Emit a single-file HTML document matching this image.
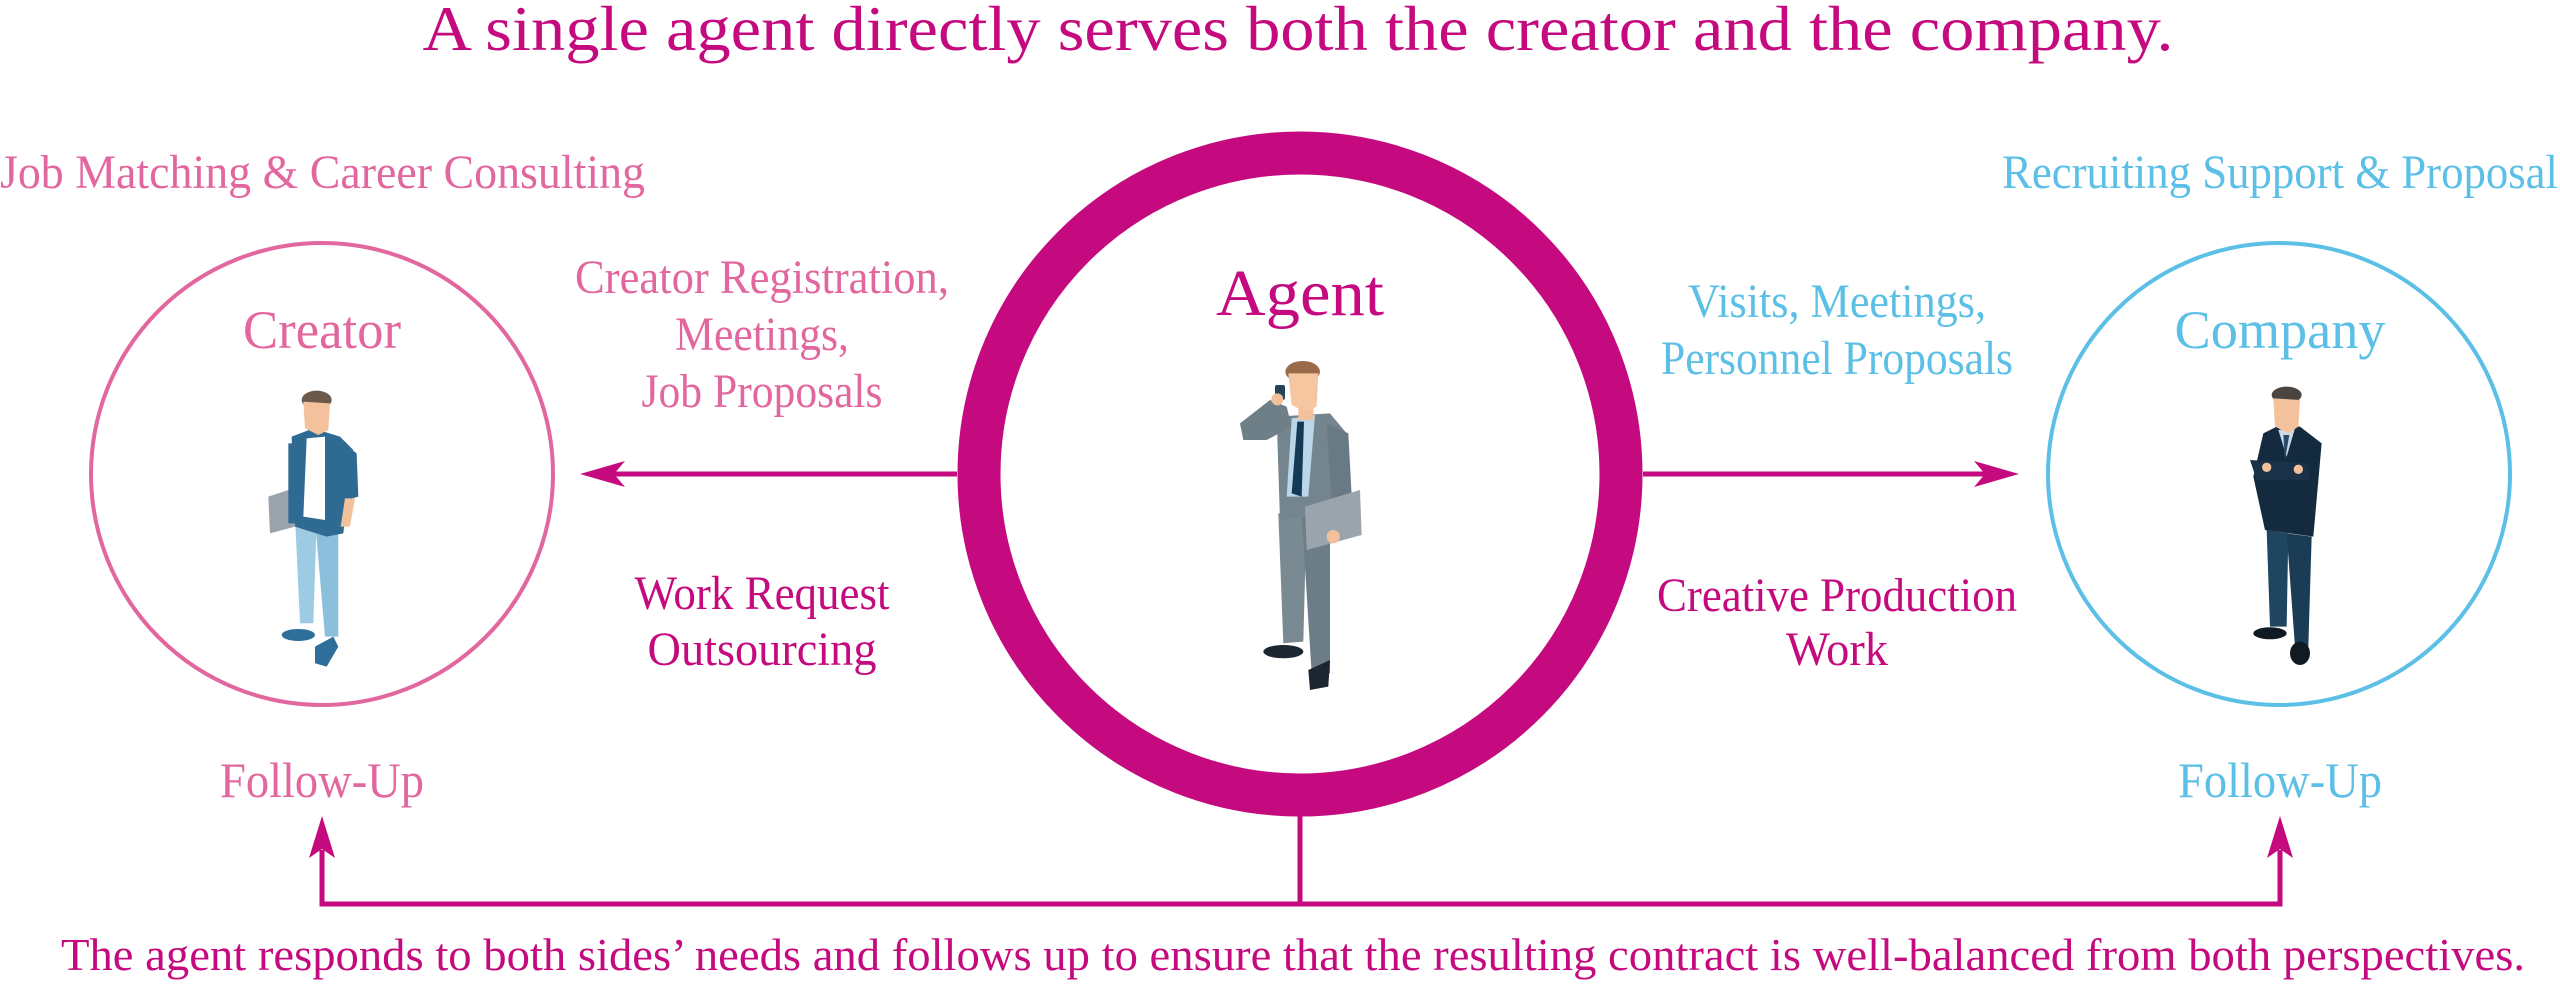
<!DOCTYPE html>
<html><head><meta charset="utf-8"><style>
html,body{margin:0;padding:0;background:#fff;}
svg{display:block;}
svg text{font-family:"Liberation Serif","DejaVu Serif","Times New Roman",serif;}
</style></head><body>
<svg width="2560" height="984" viewBox="0 0 2560 984" xmlns="http://www.w3.org/2000/svg" font-family="Liberation Serif, DejaVu Serif, serif">
<rect width="2560" height="984" fill="#fff"/>
<text x="1298" y="50" font-size="64" fill="#c40a7e" text-anchor="middle" textLength="1751" lengthAdjust="spacingAndGlyphs">A single agent directly serves both the creator and the company.</text>

<text x="0" y="188" font-size="48" fill="#e2679e" textLength="645" lengthAdjust="spacingAndGlyphs">Job Matching &amp; Career Consulting</text>
<text x="2002" y="188" font-size="48" fill="#5bbfe6" textLength="556" lengthAdjust="spacingAndGlyphs">Recruiting Support &amp; Proposal</text>

<circle cx="322" cy="474" r="231" fill="none" stroke="#e2679e" stroke-width="4"/>
<circle cx="2279" cy="474" r="231" fill="none" stroke="#5bbfe6" stroke-width="4"/>
<circle cx="1300" cy="474" r="321" fill="none" stroke="#c40a7e" stroke-width="43"/>

<line x1="957" y1="474" x2="610" y2="474" stroke="#c40a7e" stroke-width="5"/>
<polygon points="580,474 625,461 614,474 625,487" fill="#c40a7e"/>
<line x1="1643" y1="474" x2="1990" y2="474" stroke="#c40a7e" stroke-width="5"/>
<polygon points="2019,474 1974,461 1985,474 1974,487" fill="#c40a7e"/>

<polyline points="1300,816 1300,904" fill="none" stroke="#c40a7e" stroke-width="5"/>
<polyline points="322,850 322,904 2280,904 2280,850" fill="none" stroke="#c40a7e" stroke-width="5"/>
<polygon points="322,816 309,858 322,849 335,858" fill="#c40a7e"/>
<polygon points="2280,816 2267,858 2280,849 2293,858" fill="#c40a7e"/>

<text x="322" y="348" font-size="54" fill="#e2679e" text-anchor="middle" textLength="158" lengthAdjust="spacingAndGlyphs">Creator</text>
<text x="1300" y="315" font-size="66" fill="#c40a7e" text-anchor="middle" textLength="168" lengthAdjust="spacingAndGlyphs">Agent</text>
<text x="2280" y="348" font-size="54" fill="#5bbfe6" text-anchor="middle" textLength="211" lengthAdjust="spacingAndGlyphs">Company</text>

<g font-size="48" fill="#e2679e" text-anchor="middle">
<text x="762" y="293" textLength="374" lengthAdjust="spacingAndGlyphs">Creator Registration,</text>
<text x="762" y="350" textLength="174" lengthAdjust="spacingAndGlyphs">Meetings,</text>
<text x="762" y="407" textLength="241" lengthAdjust="spacingAndGlyphs">Job Proposals</text>
</g>
<g font-size="48" fill="#5bbfe6" text-anchor="middle">
<text x="1837" y="317" textLength="298" lengthAdjust="spacingAndGlyphs">Visits, Meetings,</text>
<text x="1837" y="374" textLength="352" lengthAdjust="spacingAndGlyphs">Personnel Proposals</text>
</g>
<g font-size="48" fill="#c40a7e" text-anchor="middle">
<text x="762" y="609" textLength="255" lengthAdjust="spacingAndGlyphs">Work Request</text>
<text x="762" y="665" textLength="229" lengthAdjust="spacingAndGlyphs">Outsourcing</text>
<text x="1837" y="611" textLength="360" lengthAdjust="spacingAndGlyphs">Creative Production</text>
<text x="1837" y="665" textLength="102" lengthAdjust="spacingAndGlyphs">Work</text>
</g>

<text x="322" y="797" font-size="50" fill="#e2679e" text-anchor="middle" textLength="204" lengthAdjust="spacingAndGlyphs">Follow-Up</text>
<text x="2280" y="797" font-size="50" fill="#5bbfe6" text-anchor="middle" textLength="204" lengthAdjust="spacingAndGlyphs">Follow-Up</text>

<text x="61" y="970" font-size="46" fill="#c40a7e" textLength="2464" lengthAdjust="spacingAndGlyphs">The agent responds to both sides’ needs and follows up to ensure that the resulting contract is well-balanced from both perspectives.</text>

<g transform="translate(1220,340) scale(0.3333)">
<polygon points="175,520 260,520 250,905 190,910" fill="#7a8a93"/>
<polygon points="245,520 330,520 330,1000 275,1000" fill="#6d7d87"/>
<ellipse cx="190" cy="935" rx="60" ry="20" fill="#1b2630"/>
<polygon points="265,990 330,960 325,1040 270,1050" fill="#1b2630"/>
<polygon points="170,230 330,220 380,280 340,520 180,540" fill="#75858f"/>
<polygon points="215,235 285,225 265,470 200,470" fill="#b9d7e8"/>
<polygon points="232,245 252,245 245,470 215,460" fill="#143a55"/>
<polygon points="60,250 150,180 200,200 215,260 140,300 70,300" fill="#6e7f88"/>
<polygon points="320,250 385,280 400,560 340,560" fill="#6a7a84"/>
<polygon points="255,500 420,450 425,585 260,630" fill="#9aa4ad"/>
<circle cx="340" cy="590" r="20" fill="#f2c09b"/>
<rect x="235" y="195" width="45" height="45" fill="#f2c09b"/>
<ellipse cx="248" cy="95" rx="52" ry="32" fill="#9a6b4a"/>
<polygon points="205,100 295,100 290,200 255,215 215,195" fill="#f5c6a0"/>
<rect x="165" y="135" width="30" height="45" rx="6" fill="#27435a"/>
<circle cx="172" cy="178" r="18" fill="#f2c09b"/>
</g>

<g transform="translate(250,380) scale(0.3333)">
<polygon points="135,410 200,420 190,730 150,730" fill="#9ccbe3"/>
<polygon points="195,420 265,450 265,770 225,770" fill="#8bbfdc"/>
<ellipse cx="145" cy="765" rx="50" ry="18" fill="#2d6e9b"/>
<polygon points="195,800 250,770 265,800 230,860 195,850" fill="#2d6e9b"/>
<polygon points="55,350 130,325 135,440 60,460" fill="#9aa3ac"/>
<polygon points="125,170 190,145 270,170 310,210 280,460 230,470 135,440" fill="#2f6a93"/>
<polygon points="170,175 225,170 225,420 160,410" fill="#ffffff"/>
<polygon points="280,190 320,220 325,350 290,360" fill="#2f6a93"/>
<polygon points="285,355 315,355 300,440 272,440" fill="#f2c09b"/>
<polygon points="115,190 150,190 145,430 115,430" fill="#2f6a93"/>
<ellipse cx="200" cy="60" rx="45" ry="28" fill="#6b5a4c"/>
<polygon points="160,65 240,70 235,150 205,165 165,145" fill="#f3c29c"/>
</g>

<g transform="translate(2230,380) scale(0.3333)">
<polygon points="110,450 175,460 170,740 120,740" fill="#1f4560"/>
<polygon points="170,460 245,470 235,800 195,800" fill="#1a3c55"/>
<ellipse cx="120" cy="760" rx="50" ry="18" fill="#111a22"/>
<ellipse cx="210" cy="820" rx="30" ry="35" fill="#111a22"/>
<polygon points="100,160 150,135 210,140 275,190 250,470 105,450 70,290" fill="#142a3e"/>
<polygon points="145,150 195,145 170,230" fill="#c9dbe8"/>
<polygon points="160,165 178,165 165,240" fill="#2c4a66"/>
<polygon points="60,240 230,250 240,300 80,300" fill="#1a3248"/>
<circle cx="110" cy="262" r="14" fill="#f2c09b"/>
<circle cx="205" cy="268" r="14" fill="#f2c09b"/>
<ellipse cx="170" cy="45" rx="45" ry="25" fill="#4a4540"/>
<polygon points="130,55 210,60 205,140 175,160 135,140" fill="#f3c29c"/>
</g>
</svg>
</body></html>
